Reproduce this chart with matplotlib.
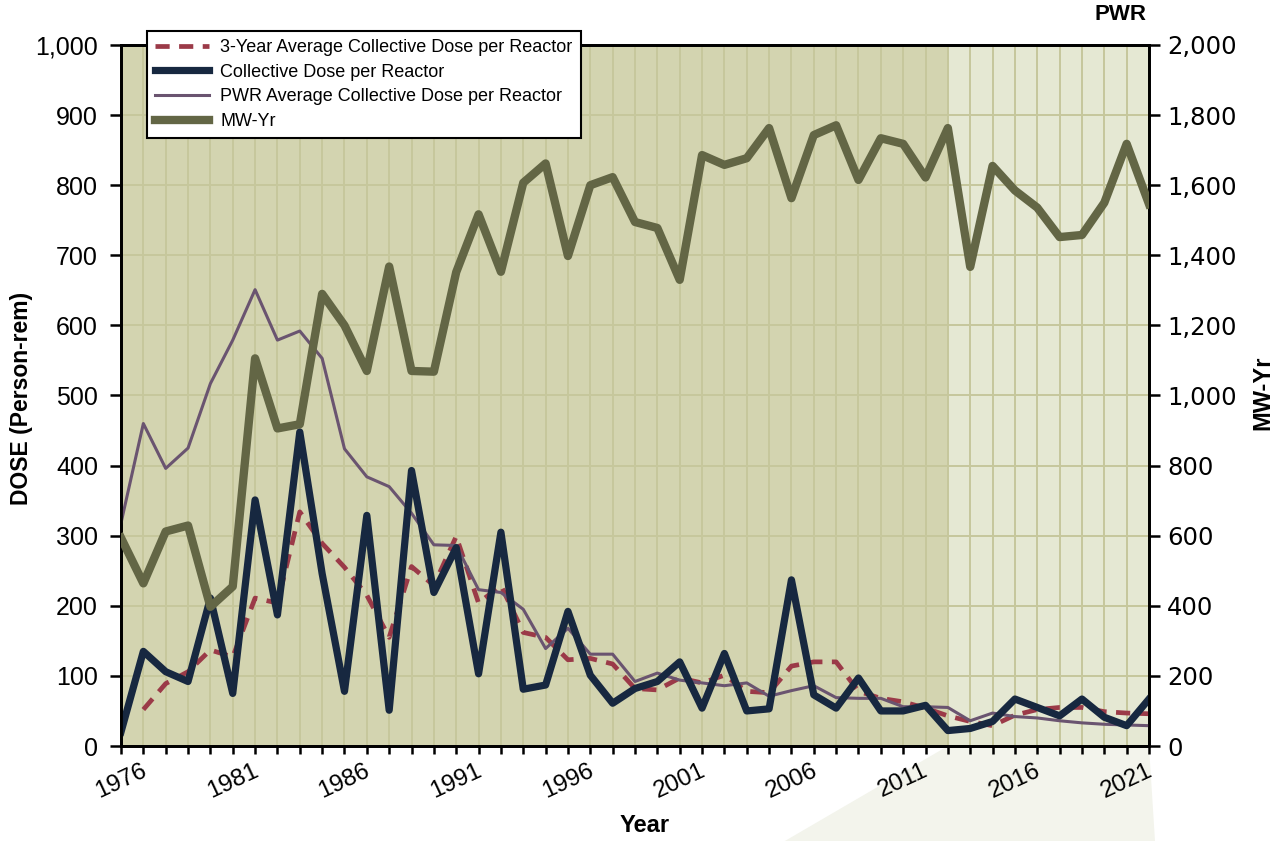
import matplotlib
matplotlib.use('Agg')
import matplotlib.pyplot as plt
import matplotlib.ticker as mticker
from matplotlib.patches import Polygon
import numpy as np

# data
years = list(range(1976, 2023))
dose = [20, 135, 106, 92, 211, 75, 351, 187, 448, 246,
        78, 329, 51, 393, 219, 283, 103, 305, 81, 87,
        192, 101, 61, 82, 92, 120, 54, 132, 50, 53,
        237, 73, 54, 97, 50, 50, 58, 22, 25, 35,
        67, 55, 43, 67, 41, 29, 67]
avg3 = [np.nan, 52, 89, 106, 137, 127, 211, 204, 334, 289,
        255, 215, 155, 256, 229, 299, 204, 229, 162, 155,
        123, 125, 117, 82, 80, 97, 90, 101, 78, 76,
        114, 120, 120, 78, 68, 63, 54, 43, 35, 29,
        44, 52, 55, 55, 49, 47, 46]
pwr_avg = [318, 460, 396, 425, 517, 579, 651, 579, 592, 553,
           424, 384, 370, 332, 287, 286, 223, 219, 195, 139,
           168, 131, 131, 92, 104, 94, 90, 86, 90, 71,
           79, 86, 69, 68, 68, 56, 56, 55, 36, 47,
           42, 40, 36, 33, 31, 30, 29]
mwyr = [594, 464, 612, 629, 397, 455, 1106, 906, 918, 1290,
        1200, 1070, 1368, 1070, 1068, 1352, 1517, 1353, 1607, 1662,
        1398, 1600, 1623, 1495, 1478, 1330, 1686, 1658, 1677, 1763,
        1563, 1743, 1771, 1615, 1734, 1718, 1622, 1763, 1367, 1655,
        1585, 1536, 1452, 1458, 1550, 1718, 1546]
label_years = list(range(1976, 2022, 5))
split_year = 2013

# colours
dark_bg = '#d3d4b0'
light_bg = '#e5e8d3'
grid_c = '#c6c79c'
olive = '#636645'
navy = '#172840'
red = '#9b3a48'
purple = '#6a5470'

plt.rcParams['font.family'] = ['Liberation Sans', 'DejaVu Sans']

fig = plt.figure(figsize=(12.83, 8.41), dpi=100)
ax = fig.add_axes([121/1283, 1 - 746/841, 1028/1283, 701/841])
ax2 = ax.twinx()

ax.set_xlim(years[0], years[-1])
ax.set_ylim(0, 1000)
ax2.set_ylim(0, 2000)

# background bands
ax.axvspan(years[0], split_year, color=dark_bg, zorder=0, lw=0)
ax.axvspan(split_year, years[-1], color=light_bg, zorder=0, lw=0)
ax.set_facecolor('white')

# grid
ax.set_xticks(years, minor=True)
ax.set_xticks(label_years)
ax.set_yticks(range(0, 1001, 100))
ax.grid(True, which='both', axis='x', color=grid_c, lw=1.4, zorder=1)
ax.grid(True, which='major', axis='y', color=grid_c, lw=1.4, zorder=1)
ax.set_axisbelow(True)

# lines
ax.plot(years, avg3, color=red, lw=3.4, dashes=(3, 2), zorder=3,
        label='3-Year Average Collective Dose per Reactor')
ax.plot(years, pwr_avg, color=purple, lw=2.2, zorder=3,
        label='PWR Average Collective Dose per Reactor')
ax.plot(years, dose, color=navy, lw=5.2, zorder=4,
        label='Collective Dose per Reactor')
ax2.plot(years, mwyr, color=olive, lw=6, zorder=5, label='MW-Yr')

# ticks
ax.yaxis.set_major_formatter(mticker.FuncFormatter(lambda v, p: f'{int(v):,}'))
ax2.yaxis.set_major_formatter(mticker.FuncFormatter(lambda v, p: f'{int(v):,}'))
ax2.set_yticks(range(0, 2001, 200))
ax.tick_params(axis='y', direction='out', length=8, width=1.8, labelsize=18, pad=8.5)
ax2.tick_params(axis='y', direction='out', length=8, width=1.8, labelsize=17.5, pad=5)
for t in ax2.get_yticklabels():
    t.set_fontfamily('DejaVu Sans')
ax.tick_params(axis='x', which='both', direction='out', length=6, width=1.8, labelsize=17.5, pad=4)
ax.set_xticklabels([str(y) for y in label_years], rotation=25, ha='center')

for a in (ax, ax2):
    for s in a.spines.values():
        s.set_linewidth(2)
        s.set_color('black')

# legend
h, l = ax.get_legend_handles_labels()
h2, l2 = ax2.get_legend_handles_labels()
order = [0, 2, 1]
handles = [h[i] for i in order] + h2
labels = [l[i] for i in order] + l2
leg = fig.legend(handles, labels, loc='upper left',
                 bbox_to_anchor=(147/1283, 1 - 31/841), borderaxespad=0,
                 fontsize=13, frameon=True, fancybox=False, framealpha=1,
                 edgecolor='black', handlelength=3.0, handletextpad=0.6,
                 labelspacing=0.42, borderpad=0.45)
leg.get_frame().set_linewidth(1.5)
leg.set_zorder(10)

# axis titles
fig.text(22/1283, 1 - 398/841, 'DOSE (Person-rem)', rotation=90, ha='center',
         va='center', fontsize=16.5, fontweight='bold')
fig.text(645/1283, 1 - 826/841, 'Year', ha='center', va='center',
         fontsize=17, fontweight='bold')
fig.text(1263/1283, 1 - 393/841, 'MW-Yr', rotation=90, ha='center',
         va='center', fontsize=17, fontweight='bold')
fig.text(1146/1283, 1 - 15/841, 'PWR', ha='right', va='center',
         fontsize=16, fontweight='bold')

# light wedge below the recent years
fig.canvas.draw()
to_fig = ax.transData + fig.transFigure.inverted()
x0, y0 = to_fig.transform((split_year, 0))
x1, y1 = to_fig.transform((years[-1], 0))
wedge = Polygon([(x0, y0), (x1, y1), (x1 + 6/1283, 0), (x0 - 163/1283, 0)],
                closed=True, transform=fig.transFigure, facecolor='#f3f4ec',
                edgecolor='none', zorder=-1)
fig.patches.append(wedge)

fig.savefig('out.png', dpi=100)
